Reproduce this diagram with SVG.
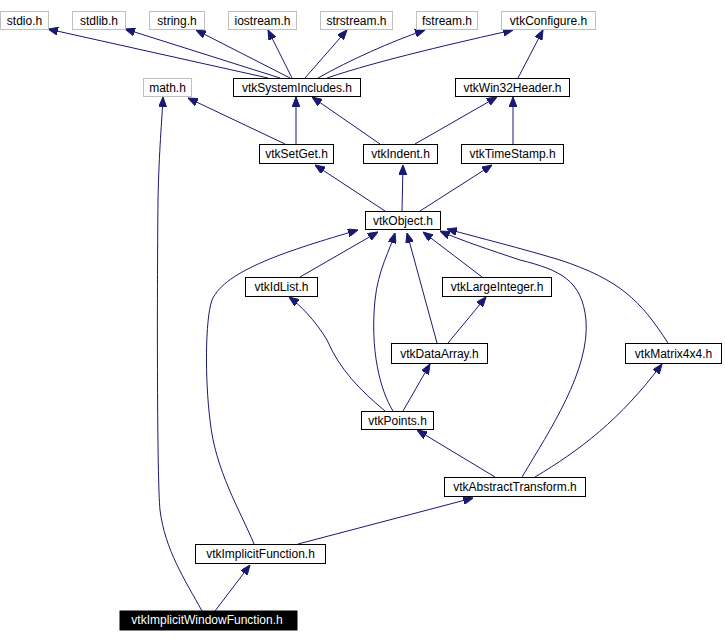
<svg xmlns="http://www.w3.org/2000/svg" width="725" height="642" viewBox="0 0 725 642">
<style>
.n rect{fill:#fff;stroke:#000;stroke-width:1}
.g rect{fill:#fff;stroke:#bfbfbf;stroke-width:1}
.h rect{fill:#000;stroke:#000}
text{font-family:"Liberation Sans",Arial,sans-serif;font-size:12px;text-anchor:middle;fill:#000}
.h text{fill:#fff}
#edges path{fill:none;stroke:#191970;stroke-width:1;marker-end:url(#a)}
</style>
<defs>
<marker id="a" viewBox="0 0 10 8" refX="10" refY="4" markerWidth="10" markerHeight="8" markerUnits="userSpaceOnUse" orient="auto">
<path d="M0,0 L10,4 L0,8 z" fill="#191970" stroke="#191970"/>
</marker>
</defs>
<rect width="725" height="642" fill="#fff"/>
<g id="edges">
<path d="M268,78 L48,29"/>
<path d="M280,78 L125,29"/>
<path d="M290,78 L196,30"/>
<path d="M292,78 L268,30"/>
<path d="M305,78 L347,30"/>
<path d="M318,78 C350,60 390,42 425,30"/>
<path d="M327,78 C380,60 460,42 513,30"/>
<path d="M518,78 L543,30"/>
<path d="M296,144 L296,97"/>
<path d="M285,144 L188,98"/>
<path d="M380,144 L312,97"/>
<path d="M415,144 L497,97"/>
<path d="M513,144 L513,97"/>
<path d="M385,211 L315,165"/>
<path d="M402,211 L403,165"/>
<path d="M420,211 L492,165"/>
<path d="M300,277 L378,232"/>
<path d="M254,544 C240,510 215,470 210,420 C205,380 205,320 212,300 C225,270 290,250 358,230"/>
<path d="M393,411 C380,390 370,350 375,300 C378,270 390,250 395,233"/>
<path d="M437,343 L407,233"/>
<path d="M482,277 L423,232"/>
<path d="M522,477 C550,430 590,370 586,320 C582,280 560,270 520,260 C490,250 460,240 440,231"/>
<path d="M668,343 C640,300 620,280 560,260 C520,248 480,238 447,229"/>
<path d="M385,411 C360,390 340,370 327,340 C315,320 300,305 289,297"/>
<path d="M448,343 L486,297"/>
<path d="M403,411 L430,364"/>
<path d="M495,477 L417,430"/>
<path d="M535,477 C580,450 620,420 662,364"/>
<path d="M298,544 L473,498"/>
<path d="M215,611 L250,565"/>
<path d="M202,611 C185,580 165,550 160,510 C157,480 157,300 158,200 C159,150 162,120 163,97"/>
</g>
<g id="stdio" class="g"><rect x="0.5" y="11.5" width="48" height="18"/><text x="24.5" y="25">stdio.h</text></g>
<g id="stdlib" class="g"><rect x="72.5" y="11.5" width="53" height="18"/><text x="99" y="25">stdlib.h</text></g>
<g id="string" class="g"><rect x="149.5" y="11.5" width="55" height="18"/><text x="177" y="25">string.h</text></g>
<g id="iostream" class="g"><rect x="228.5" y="11.5" width="68" height="18"/><text x="262.5" y="25">iostream.h</text></g>
<g id="strstream" class="g"><rect x="320.5" y="11.5" width="72" height="18"/><text x="356.5" y="25">strstream.h</text></g>
<g id="fstream" class="g"><rect x="416.5" y="11.5" width="61" height="18"/><text x="447" y="25">fstream.h</text></g>
<g id="vtkConfigure" class="g"><rect x="501.5" y="11.5" width="94" height="18"/><text x="548.5" y="25">vtkConfigure.h</text></g>
<g id="math" class="g"><rect x="143.5" y="78.5" width="48" height="18"/><text x="167.5" y="92">math.h</text></g>
<g id="vtkSystemIncludes" class="n"><rect x="233.5" y="78.5" width="127" height="18"/><text x="297" y="92">vtkSystemIncludes.h</text></g>
<g id="vtkWin32Header" class="n"><rect x="455.5" y="78.5" width="114" height="18"/><text x="512.5" y="92">vtkWin32Header.h</text></g>
<g id="vtkSetGet" class="n"><rect x="259.5" y="144.5" width="74" height="19"/><text x="296.5" y="158">vtkSetGet.h</text></g>
<g id="vtkIndent" class="n"><rect x="363.5" y="144.5" width="74" height="19"/><text x="400.5" y="158">vtkIndent.h</text></g>
<g id="vtkTimeStamp" class="n"><rect x="461.5" y="144.5" width="102" height="19"/><text x="512.5" y="158">vtkTimeStamp.h</text></g>
<g id="vtkObject" class="n"><rect x="365.5" y="211.5" width="75" height="18"/><text x="403" y="225">vtkObject.h</text></g>
<g id="vtkIdList" class="n"><rect x="245.5" y="277.5" width="72" height="19"/><text x="281.5" y="291">vtkIdList.h</text></g>
<g id="vtkLargeInteger" class="n"><rect x="442.5" y="277.5" width="109" height="19"/><text x="497" y="291">vtkLargeInteger.h</text></g>
<g id="vtkDataArray" class="n"><rect x="391.5" y="343.5" width="96" height="20"/><text x="439.5" y="358">vtkDataArray.h</text></g>
<g id="vtkMatrix4x4" class="n"><rect x="625.5" y="343.5" width="96" height="20"/><text x="673.5" y="358">vtkMatrix4x4.h</text></g>
<g id="vtkPoints" class="n"><rect x="361.5" y="411.5" width="72" height="18"/><text x="397.5" y="425">vtkPoints.h</text></g>
<g id="vtkAbstractTransform" class="n"><rect x="444.5" y="477.5" width="141" height="19"/><text x="515" y="491">vtkAbstractTransform.h</text></g>
<g id="vtkImplicitFunction" class="n"><rect x="195.5" y="544.5" width="130" height="19"/><text x="260.5" y="558">vtkImplicitFunction.h</text></g>
<g id="vtkImplicitWindowFunction" class="h"><rect x="120" y="611" width="177" height="19"/><text x="207" y="624">vtkImplicitWindowFunction.h</text></g>
</svg>
